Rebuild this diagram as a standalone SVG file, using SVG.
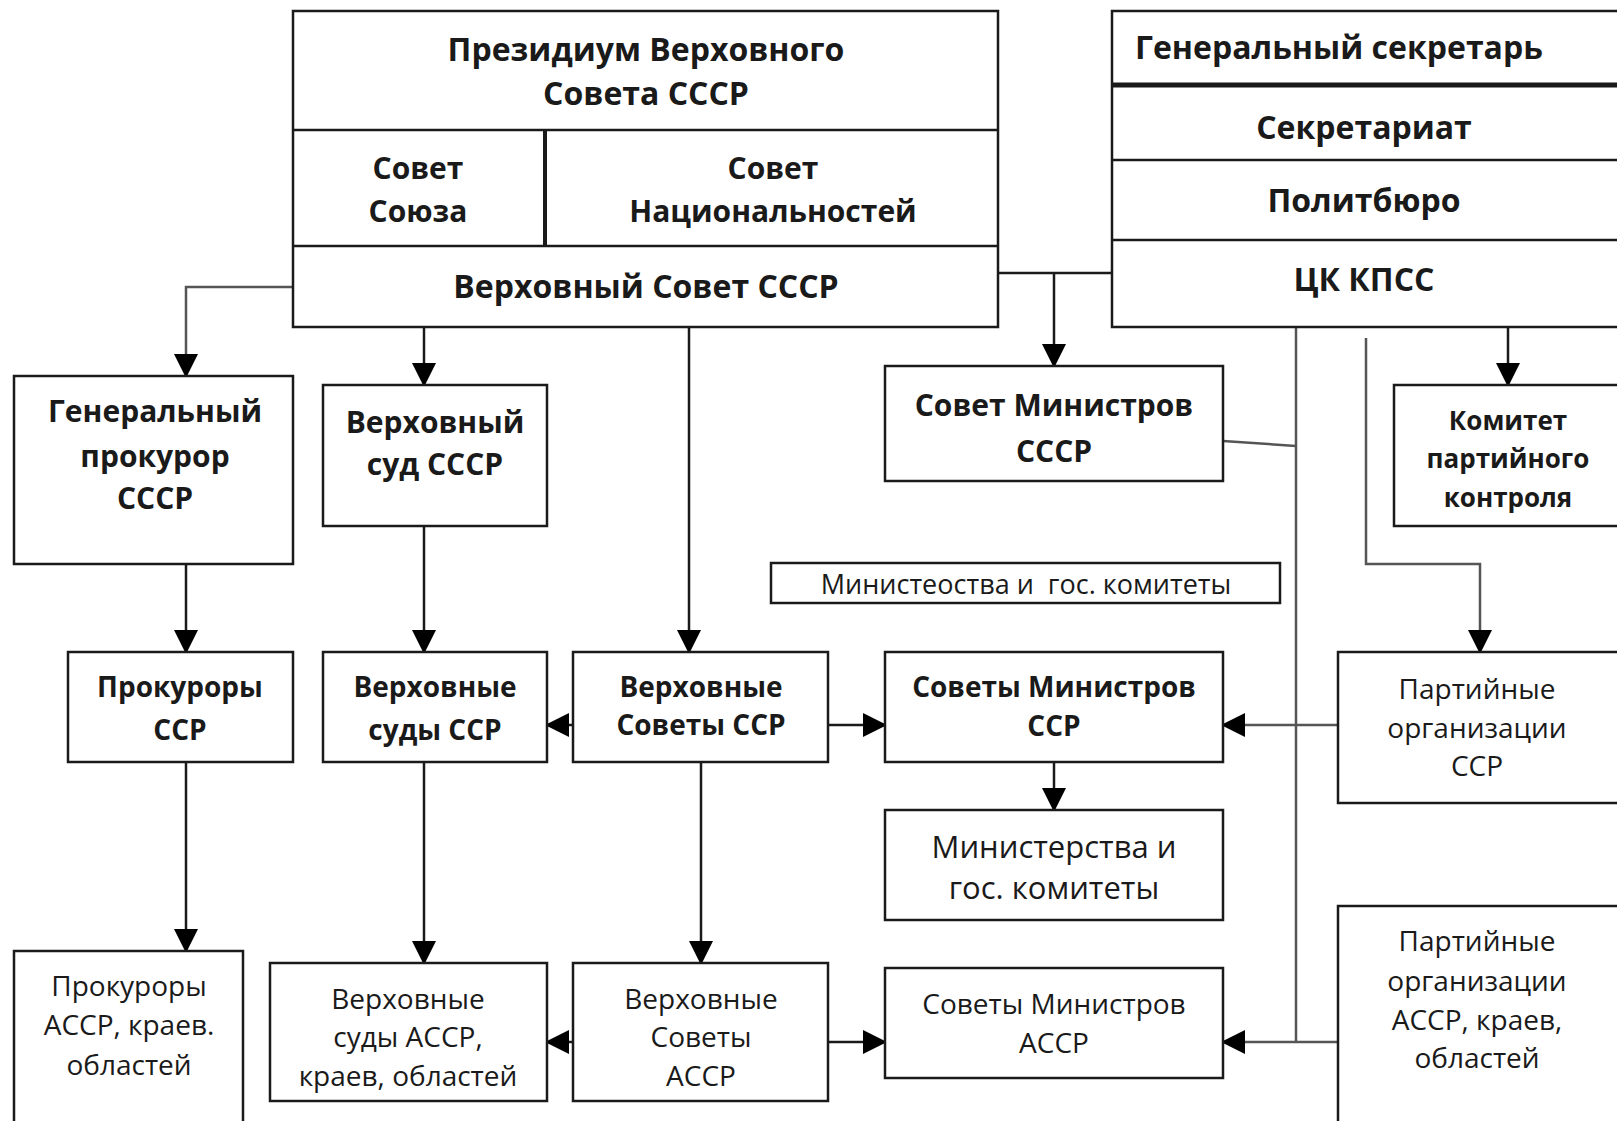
<svg xmlns="http://www.w3.org/2000/svg" width="1617" height="1121" viewBox="0 0 1617 1121">
<style>
  .box { fill: #ffffff; stroke: #1a1a1a; stroke-width: 2.5; }
  .div { stroke: #1a1a1a; stroke-width: 2.5; fill: none; }
  .t { font-family: "Open Sans", "Liberation Sans", sans-serif; font-size: 28px; fill: #1a1a1a; text-anchor: middle; dominant-baseline: central; }
  .b { font-weight: 700; }
  .n { font-weight: 400; }
  .big { font-size: 32px; }
  .mid { font-size: 30px; }
  .c { stroke: #1a1a1a; stroke-width: 2.5; fill: none; }
  .g { stroke: #555555; stroke-width: 2.5; fill: none; }
  .a { marker-end: url(#arr); }
</style>
<defs>
  <marker id="arr" markerUnits="userSpaceOnUse" markerWidth="24" markerHeight="26" viewBox="0 0 24 26" refX="22" refY="12" orient="auto">
    <path d="M0,0 L24,12 L0,24 Z" fill="#000000"/>
  </marker>
</defs>
<rect width="1617" height="1121" fill="#ffffff"/>

<g id="connectors">
  <line class="c" x1="998" y1="273" x2="1112" y2="273"/>
  <line class="c a" x1="1054" y1="273" x2="1054" y2="366"/>
  <polyline class="g a" points="293,287 186,287 186,376"/>
  <line class="c a" x1="424" y1="327" x2="424" y2="385"/>
  <line class="c a" x1="689" y1="327" x2="689" y2="652"/>
  <line class="c a" x1="1508" y1="327" x2="1508" y2="385"/>
  <polyline class="g" points="1296,327 1296,1042"/>
  <line class="g" x1="1223" y1="441" x2="1296" y2="446"/>
  <polyline class="g a" points="1366,338 1366,564 1480,564 1480,652"/>
  <line class="c a" x1="186" y1="564" x2="186" y2="652"/>
  <line class="c a" x1="186" y1="762" x2="186" y2="951"/>
  <line class="c a" x1="424" y1="526" x2="424" y2="652"/>
  <line class="c a" x1="424" y1="762" x2="424" y2="963"/>
  <line class="c a" x1="701" y1="762" x2="701" y2="963"/>
  <line class="c a" x1="573" y1="725" x2="547" y2="725"/>
  <line class="c a" x1="828" y1="725" x2="885" y2="725"/>
  <line class="g a" x1="1338" y1="725" x2="1223" y2="725"/>
  <line class="c a" x1="1054" y1="762" x2="1054" y2="810"/>
  <line class="c a" x1="573" y1="1042" x2="547" y2="1042"/>
  <line class="c a" x1="828" y1="1042" x2="885" y2="1042"/>
  <line class="g a" x1="1338" y1="1042" x2="1223" y2="1042"/>
</g>

<g id="verkhovny-sovet">
  <rect class="box" x="293" y="11" width="705" height="316"/>
  <line class="div" x1="293" y1="130" x2="998" y2="130"/>
  <line class="div" x1="293" y1="246" x2="998" y2="246"/>
  <line class="div" x1="545" y1="130" x2="545" y2="246" style="stroke-width:4"/>
  <text class="t b big" x="646" y="48">Президиум Верховного</text>
  <text class="t b big" x="646" y="92">Совета СССР</text>
  <text class="t b mid" x="418" y="167">Совет</text>
  <text class="t b mid" x="418" y="210">Союза</text>
  <text class="t b mid" x="773" y="167">Совет</text>
  <text class="t b mid" x="773" y="210">Национальностей</text>
  <text class="t b big" x="646" y="285">Верховный Совет СССР</text>
</g>

<g id="tsk-kpss">
  <rect class="box" x="1112" y="11" width="510" height="316"/>
  <line class="div" x1="1112" y1="85" x2="1617" y2="85" style="stroke-width:5"/>
  <line class="div" x1="1112" y1="160" x2="1617" y2="160"/>
  <line class="div" x1="1112" y1="240" x2="1617" y2="240"/>
  <text class="t b big" x="1135" y="46" style="text-anchor:start">Генеральный секретарь</text>
  <text class="t b big" x="1364" y="126">Секретариат</text>
  <text class="t b big" x="1364" y="199">Политбюро</text>
  <text class="t b big" x="1364" y="278">ЦК КПСС</text>
</g>

<g id="gen-prokuror">
  <rect class="box" x="14" y="376" width="279" height="188"/>
  <text class="t b mid" x="155" y="410">Генеральный</text>
  <text class="t b mid" x="155" y="455">прокурор</text>
  <text class="t b mid" x="155" y="497">СССР</text>
</g>

<g id="verkhovny-sud">
  <rect class="box" x="323" y="385" width="224" height="141"/>
  <text class="t b mid" x="435" y="421">Верховный</text>
  <text class="t b mid" x="435" y="463">суд СССР</text>
</g>

<g id="sovet-ministrov">
  <rect class="box" x="885" y="366" width="338" height="115"/>
  <text class="t b mid" x="1054" y="404">Совет Министров</text>
  <text class="t b mid" x="1054" y="450">СССР</text>
</g>

<g id="komitet">
  <rect class="box" x="1394" y="385" width="228" height="141"/>
  <text class="t b" x="1508" y="420" style="font-size:26px">Комитет</text>
  <text class="t b" x="1508" y="458" style="font-size:26px">партийного</text>
  <text class="t b" x="1508" y="497" style="font-size:26px">контроля</text>
</g>

<g id="ministeostva">
  <rect class="box" x="771" y="563" width="509" height="40"/>
  <text class="t n" x="1026" y="583" style="font-size:27px; white-space:pre" xml:space="preserve">Министеоства и  гос. комитеты</text>
</g>

<g id="prokurory-ssr">
  <rect class="box" x="68" y="652" width="225" height="110"/>
  <text class="t b" x="180" y="686">Прокуроры</text>
  <text class="t b" x="180" y="729">ССР</text>
</g>

<g id="sudy-ssr">
  <rect class="box" x="323" y="652" width="224" height="110"/>
  <text class="t b" x="435" y="686">Верховные</text>
  <text class="t b" x="435" y="729">суды ССР</text>
</g>

<g id="sovety-ssr">
  <rect class="box" x="573" y="652" width="255" height="110"/>
  <text class="t b" x="701" y="686">Верховные</text>
  <text class="t b" x="701" y="724">Советы ССР</text>
</g>

<g id="sovmin-ssr">
  <rect class="box" x="885" y="652" width="338" height="110"/>
  <text class="t b" x="1054" y="686">Советы Министров</text>
  <text class="t b" x="1054" y="725">ССР</text>
</g>

<g id="partorg-ssr">
  <rect class="box" x="1338" y="652" width="284" height="151"/>
  <text class="t n" x="1477" y="688">Партийные</text>
  <text class="t n" x="1477" y="727">организации</text>
  <text class="t n" x="1477" y="765">ССР</text>
</g>

<g id="ministerstva">
  <rect class="box" x="885" y="810" width="338" height="110"/>
  <text class="t n" x="1054" y="846" style="font-size:31px">Министерства и</text>
  <text class="t n" x="1054" y="887" style="font-size:31px">гос. комитеты</text>
</g>

<g id="prokurory-assr">
  <rect class="box" x="14" y="951" width="229" height="175"/>
  <text class="t n" x="129" y="985">Прокуроры</text>
  <text class="t n" x="129" y="1024">АССР, краев.</text>
  <text class="t n" x="129" y="1064">областей</text>
</g>

<g id="sudy-assr">
  <rect class="box" x="270" y="963" width="277" height="138"/>
  <text class="t n" x="408" y="998">Верховные</text>
  <text class="t n" x="408" y="1036">суды АССР,</text>
  <text class="t n" x="408" y="1075">краев, областей</text>
</g>

<g id="sovety-assr">
  <rect class="box" x="573" y="963" width="255" height="138"/>
  <text class="t n" x="701" y="998">Верховные</text>
  <text class="t n" x="701" y="1036">Советы</text>
  <text class="t n" x="701" y="1075">АССР</text>
</g>

<g id="sovmin-assr">
  <rect class="box" x="885" y="968" width="338" height="110"/>
  <text class="t n" x="1054" y="1003">Советы Министров</text>
  <text class="t n" x="1054" y="1042">АССР</text>
</g>

<g id="partorg-assr">
  <rect class="box" x="1338" y="906" width="284" height="220"/>
  <text class="t n" x="1477" y="940">Партийные</text>
  <text class="t n" x="1477" y="980">организации</text>
  <text class="t n" x="1477" y="1019">АССР, краев,</text>
  <text class="t n" x="1477" y="1057">областей</text>
</g>
</svg>
